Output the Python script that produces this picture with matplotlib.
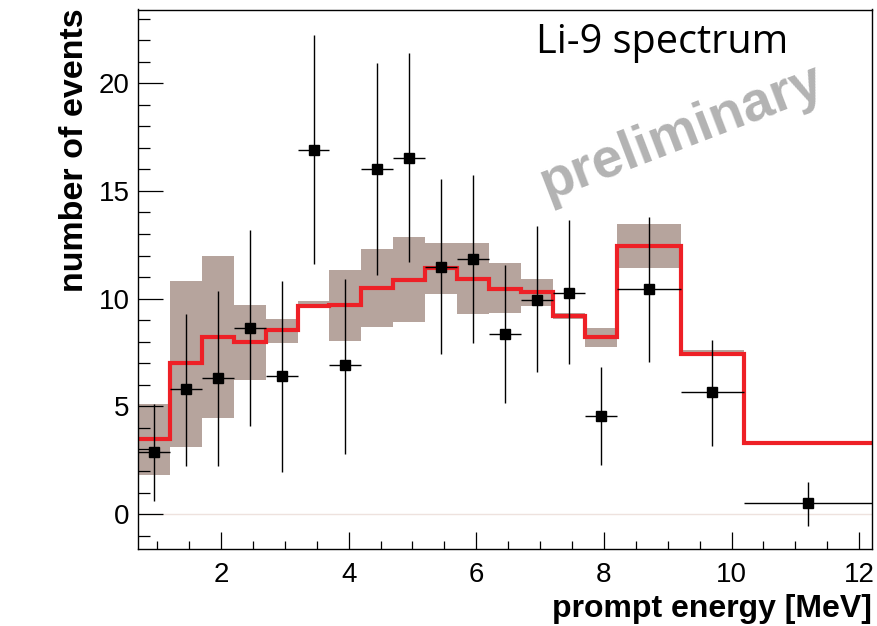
import numpy as np
import matplotlib
matplotlib.use("Agg")
import matplotlib.pyplot as plt
from matplotlib.ticker import MultipleLocator

# Bin edges of the prompt energy histogram [MeV]
binEdges = [0.7, 1.2, 1.7, 2.2, 2.7, 3.2, 3.7, 4.2, 4.7, 5.2, 5.7, 6.2, 6.7,
            7.2, 7.7, 8.2, 9.2, 10.2, 12.2]

# Measured Li-9 events (points) with asymmetric error bar ends
dataVals = [2.9, 5.8, 6.3, 8.65, 6.4, 16.9, 6.9, 16.0, 16.55, 11.45, 11.85, 8.35,
            9.95, 10.25, 4.55, 10.45, 5.65, 0.5]
dataHigh = [5.1, 9.27, 10.35, 13.2, 10.8, 22.25, 10.9, 20.95, 21.4, 15.55, 15.75, 11.55,
            13.35, 13.65, 6.85, 13.8, 8.1, 1.5]
dataLow = [0.6, 2.25, 2.25, 4.1, 1.95, 11.6, 2.8, 11.1, 11.7, 7.45, 7.95, 5.15,
           6.6, 6.95, 2.3, 7.05, 3.15, -0.55]

# Expected spectrum (red line) and its uncertainty band
predVals = [3.47, 7.0, 8.2, 7.97, 8.53, 9.66, 9.7, 10.48, 10.88, 11.41, 10.92, 10.43,
            10.3, 9.18, 8.23, 12.45, 7.45, 3.31]
bandTop = [5.1, 10.83, 11.99, 9.7, 9.05, 9.9, 11.33, 12.29, 12.85, 12.57, 12.57, 11.64,
           10.9, 9.35, 8.62, 13.46, 7.6, 3.4]
bandBot = [1.81, 3.1, 4.44, 6.22, 7.95, 9.6, 8.03, 8.67, 8.93, 10.21, 9.29, 9.35,
           9.66, 9.05, 7.74, 11.41, 7.35, 3.25]

edges = np.array(binEdges)
centers = (edges[:-1] + edges[1:]) / 2
halfW = (edges[1:] - edges[:-1]) / 2
vals = np.array(dataVals)
yerr = [vals - np.array(dataLow), np.array(dataHigh) - vals]

plt.rcParams['font.family'] = ['Liberation Sans', 'DejaVu Sans']

fig = plt.figure(figsize=(8.77, 6.26), dpi=100)
ax = fig.add_axes([138 / 877, 1 - 549 / 626, (872 - 138) / 877, (549 - 9.5) / 626])

ax.axhline(0, color='#eee2de', lw=1, zorder=0)
ax.stairs(bandTop, edges, baseline=bandBot, fill=True, color='#b6a49d', lw=0, zorder=1)
ax.stairs(predVals, edges, baseline=None, color='#ee2026', lw=3, zorder=2)
ax.errorbar(centers, vals, xerr=halfW, yerr=yerr, fmt='s', color='black', ms=7,
            elinewidth=1.0, capsize=0, zorder=3)

ax.set_xlim(0.7, 12.2)
ax.set_ylim(-1.62, 23.42)
ax.xaxis.set_major_locator(MultipleLocator(2))
ax.xaxis.set_minor_locator(MultipleLocator(0.5))
ax.yaxis.set_major_locator(MultipleLocator(5))
ax.yaxis.set_minor_locator(MultipleLocator(1))
ax.tick_params(axis='both', which='both', direction='in', width=0.9, labelsize=20)
ax.tick_params(axis='y', which='major', length=18, pad=6)
ax.tick_params(axis='y', which='minor', length=8.5)
ax.tick_params(axis='x', which='major', length=12, pad=9)
ax.tick_params(axis='x', which='minor', length=6)
for sp in ax.spines.values():
    sp.set_linewidth(1.0)

fig.text(872 / 877, 1 - 617 / 626, 'prompt energy [MeV]', ha='right', va='baseline',
         fontsize=23, fontweight='bold')
fig.text(75 / 877, 1 - 8 / 626, 'number of events', ha='center', va='top', rotation=90,
         fontsize=24.5, fontweight='bold')

fig.text(536 / 877, 1 - 53 / 626, 'Li-9 spectrum', ha='left', va='baseline',
         fontsize=28.5, family=['Open Sans', 'DejaVu Sans'])
fig.text(682 / 877, 1 - 133 / 626, 'preliminary', ha='center', va='center', rotation=21,
         fontsize=40, fontweight='bold', color='#b3b3b3', zorder=0)

fig.savefig('out.png', dpi=100)
